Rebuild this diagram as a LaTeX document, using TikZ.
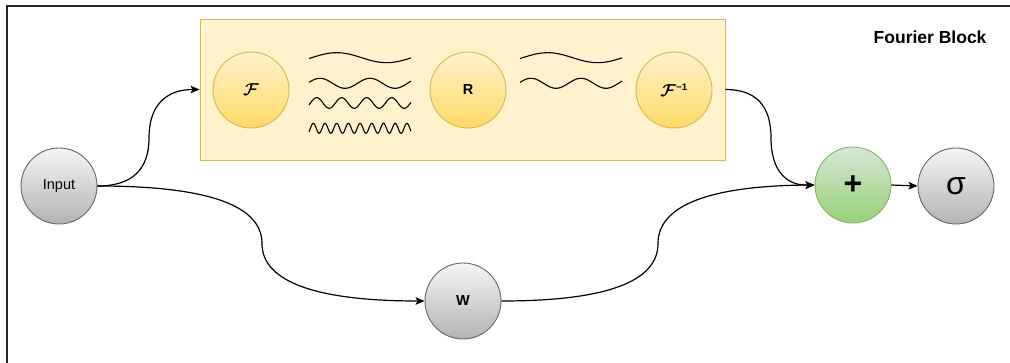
\documentclass[tikz,border=0pt]{standalone}
\usepackage{amsmath}
\usepackage{fontspec}
\setmainfont{Liberation Sans}
\usetikzlibrary{arrows.meta,calc}
\definecolor{ylfill}{HTML}{FFF2CC}
\definecolor{yldark}{HTML}{FFD966}
\definecolor{ylline}{HTML}{D6B656}
\definecolor{gytop}{HTML}{F5F5F5}
\definecolor{gybot}{HTML}{B3B3B3}
\definecolor{gyline}{HTML}{666666}
\definecolor{grtop}{HTML}{D5E8D4}
\definecolor{grbot}{HTML}{97D077}
\definecolor{grline}{HTML}{82B366}
\newcommand{\wv}[6]{\draw[wave] plot[domain=#1:#2,samples=150,smooth] (\x,{#3-#4*cos((\x-#6)*(360/#5))});}
\newcommand{\fsym}{\ensuremath{\boldsymbol{\mathcal{F}}}}
\begin{document}
\begin{tikzpicture}[x=1pt,y=-1pt,
  ncirc/.style={circle,minimum size=76pt,inner sep=0pt,line width=0.9pt},
  yel/.style={ncirc,draw=ylline,top color=ylfill,bottom color=yldark},
  gry/.style={ncirc,draw=gyline,top color=gytop,bottom color=gybot},
  grn/.style={ncirc,draw=grline,top color=grtop,bottom color=grbot},
  conn/.style={line width=1.2pt,-{Stealth[length=9pt,width=7.5pt,inset=2pt]}},
  wave/.style={line width=1.1pt,black},
  lbl/.style={font=\fontsize{14.5}{16}\selectfont},
  blbl/.style={font=\fontsize{14.5}{16}\selectfont\bfseries},
  big/.style={font=\fontsize{32}{34}\selectfont},
  msym/.style={font=\fontsize{16}{18}\selectfont}]
\useasboundingbox (0,0) rectangle (1010,363);
\draw[line width=1.2pt,black!85] (7,363) -- (7,6) -- (1010,6);

\node[draw=ylline,fill=ylfill,line width=0.9pt,minimum width=525pt,minimum height=141pt,inner sep=0pt] (fb) at (462.5,89.5) {};
\node[font=\fontsize{17.5}{19}\selectfont\bfseries,anchor=east] (title) at (990,37) {Fourier Block};

\node[yel,msym] (nF) at (251,90) {\fsym};
\node[yel,blbl] (nR) at (468,90) {R};
\node[yel,msym] (nFi) at (674,90) {\fsym\textsuperscript{\fontsize{9.5}{10}\selectfont\bfseries −1}};

\node[gry,lbl] (in) at (59,186) {Input};
\node[gry,blbl] (nW) at (463,301) {W};
\node[grn,big,font=\fontsize{32}{34}\selectfont\bfseries] (plus) at (853,185) {+};
\node[gry,big] (sig) at (956,186) {σ};

% waves
\wv{309}{411}{57.7}{5}{100}{336.7}
\wv{309}{411}{83.3}{5}{50}{320}
\wv{309}{411}{103}{5.3}{25}{316.7}
\wv{309}{411}{128.3}{5}{11.7}{313.3}
\wv{520}{622}{57.7}{5}{100}{547.7}
\wv{520}{622}{83.3}{5}{50}{531}

% connector corners
\coordinate (a1) at (149,186);
\coordinate (a2) at (149,89.5);
\coordinate (am) at ($(a1)!0.5!(a2)$);
\coordinate (b1) at (262,186);
\coordinate (b2) at (262,301);
\coordinate (bm) at ($(b1)!0.5!(b2)$);
\coordinate (c1) at (658,301);
\coordinate (c2) at (658,186);
\coordinate (cm) at ($(c1)!0.5!(c2)$);
\coordinate (d1) at (771,89.5);
\coordinate (d2) at (771,186);
\coordinate (dm) at ($(d1)!0.5!(d2)$);

\draw[conn] (in.east) .. controls ($(in.east)!2/3!(a1)$) and ($(am)!2/3!(a1)$) .. (am)
  .. controls ($(am)!2/3!(a2)$) and ($(fb.west)!2/3!(a2)$) .. (fb.west);
\draw[conn] (in.east) .. controls ($(in.east)!2/3!(b1)$) and ($(bm)!2/3!(b1)$) .. (bm)
  .. controls ($(bm)!2/3!(b2)$) and ($(nW.west)!2/3!(b2)$) .. (nW.west);
\draw[conn] (nW.east) .. controls ($(nW.east)!2/3!(c1)$) and ($(cm)!2/3!(c1)$) .. (cm)
  .. controls ($(cm)!2/3!(c2)$) and ($(plus.west)!2/3!(c2)$) .. (plus.west);
\draw[conn] (fb.east) .. controls ($(fb.east)!2/3!(d1)$) and ($(dm)!2/3!(d1)$) .. (dm)
  .. controls ($(dm)!2/3!(d2)$) and ($(plus.west)!2/3!(d2)$) .. (plus.west);
\draw[conn] (plus.east) -- (sig.west);
\end{tikzpicture}
\end{document}
